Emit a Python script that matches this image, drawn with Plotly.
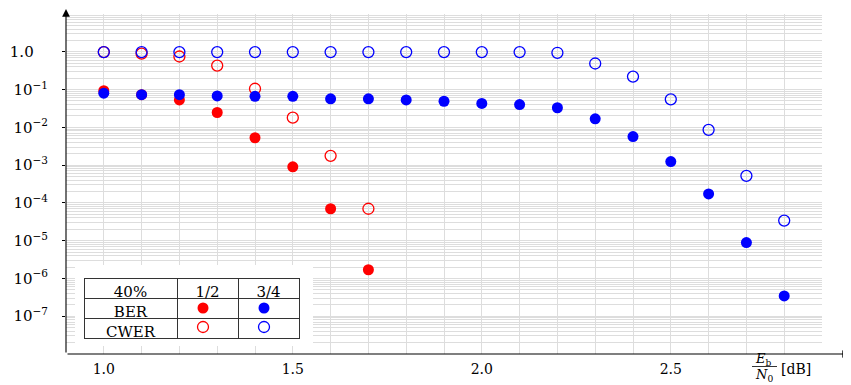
import plotly.graph_objects as go

# ---------------- data ----------------
snr_db = [1.0, 1.1, 1.2, 1.3, 1.4, 1.5, 1.6, 1.7, 1.8, 1.9,
          2.0, 2.1, 2.2, 2.3, 2.4, 2.5, 2.6, 2.7, 2.8]

# rate 1/2 (red) – measured up to 1.7 dB
snr_r12 = [1.0, 1.1, 1.2, 1.3, 1.4, 1.5, 1.6, 1.7]
ber_r12 = [0.093, 0.073, 0.053, 0.0247, 0.0053, 9.0e-4, 7.0e-5, 1.7e-6]
cwer_r12 = [0.98, 0.89, 0.75, 0.43, 0.105, 0.018, 1.76e-3, 7.0e-5]

# rate 3/4 (blue)
ber_r34 = [0.080, 0.073, 0.073, 0.068, 0.066, 0.066, 0.057, 0.057, 0.053, 0.049,
           0.043, 0.040, 0.033, 0.0168, 0.0057, 1.24e-3, 1.73e-4, 8.9e-6, 3.45e-7]
cwer_r34 = [0.98, 0.98, 0.98, 0.98, 0.98, 0.98, 0.98, 0.98, 0.98, 0.98,
            0.98, 0.98, 0.94, 0.49, 0.22, 0.055, 8.6e-3, 5.2e-4, 3.4e-5]

x_tick_vals = [1.0, 1.5, 2.0, 2.5]
x_tick_text = ["1.0", "1.5", "2.0", "2.5"]
y_tick_vals = [1, 1e-1, 1e-2, 1e-3, 1e-4, 1e-5, 1e-6, 1e-7]
y_tick_text = ["1.0\u00a0\u00a0\u00a0", "10<sup>−1</sup>", "10<sup>−2</sup>", "10<sup>−3</sup>",
               "10<sup>−4</sup>", "10<sup>−5</sup>", "10<sup>−6</sup>", "10<sup>−7</sup>"]

legend_corner = "40%"
legend_rates = ["1/2", "3/4"]
legend_metrics = ["BER", "CWER"]

RED = "#ff0000"
BLUE = "#0000ff"
GRID = "#dddddd"
SERIF = "DejaVu Serif"
rate_colors = [RED, BLUE]

# page body has an 8px margin: figure is drawn 8px right/down in the window
OFF = 8
W, H = 851 - OFF, 385 - OFF
PL, PR, PT, PB = 66, 822, 14, 354          # plot area in window pixels
px = lambda v: (v - PL) / (PR - PL)        # window px -> paper x
py = lambda v: (PB - v) / (PB - PT)        # window px -> paper y

# legend overlay area (white box) in window pixels, and cell pitch
LX0, LX1, LY0, LY1 = 75, 313, 265, 346
COL1, COLPITCH = 203, 61                   # centre of "1/2" column, spacing
ROW_BER, ROWPITCH = 308, 19                # centre of BER row, spacing

# ---------------- figure ----------------
fig = go.Figure()
fig.add_trace(go.Scatter(x=snr_r12, y=ber_r12, mode="markers",
                         marker=dict(symbol="circle", size=11, color=RED)))
fig.add_trace(go.Scatter(x=snr_r12, y=cwer_r12, mode="markers",
                         marker=dict(symbol="circle-open", size=11, color=RED,
                                     line=dict(width=1.3, color=RED))))
fig.add_trace(go.Scatter(x=snr_db, y=ber_r34, mode="markers",
                         marker=dict(symbol="circle", size=11, color=BLUE)))
fig.add_trace(go.Scatter(x=snr_db, y=cwer_r34, mode="markers",
                         marker=dict(symbol="circle-open", size=11, color=BLUE,
                                     line=dict(width=1.3, color=BLUE))))

# legend markers on a small categorical overlay axis pair (x2/y2)
fig.add_trace(go.Scatter(x=legend_rates, y=[legend_metrics[0]] * 2, mode="markers",
                         xaxis="x2", yaxis="y2", cliponaxis=False,
                         marker=dict(symbol="circle", size=11, color=rate_colors)))
fig.add_trace(go.Scatter(x=legend_rates, y=[legend_metrics[1]] * 2, mode="markers",
                         xaxis="x2", yaxis="y2", cliponaxis=False,
                         marker=dict(symbol="circle-open", size=11, color=rate_colors,
                                     line=dict(width=1.3, color=rate_colors))))

# legend table (text + rules), transparent cells
CLEAR = "rgba(0,0,0,0)"
fig.add_trace(go.Table(
    domain=dict(x=[px(84), px(299)], y=[0.0, py(278)]),
    columnwidth=[93, 61, 61],
    header=dict(values=[legend_corner] + legend_rates, height=20, align="center",
                line=dict(color="#333333", width=1), fill=dict(color=CLEAR),
                font=dict(family=SERIF, size=15, color="black")),
    cells=dict(values=[legend_metrics, ["", ""], ["", ""]], height=20, align="center",
               line=dict(color="#333333", width=1), fill=dict(color=CLEAR),
               font=dict(family=SERIF, size=15, color="black")),
))

x2_range = [-(COL1 - LX0) / COLPITCH, 1 + (LX1 - (COL1 + COLPITCH)) / COLPITCH]
y2_range = [-(LY1 - (ROW_BER + ROWPITCH)) / ROWPITCH, 1 + (ROW_BER - LY0) / ROWPITCH]

fig.update_layout(
    width=W, height=H,
    margin=dict(l=PL - OFF, r=851 - PR, t=PT - OFF, b=385 - PB),
    plot_bgcolor="white", paper_bgcolor="white",
    showlegend=False,
    font=dict(family=SERIF, size=14, color="black"),
    xaxis=dict(
        range=[0.9, 2.9], tickmode="array", tickvals=x_tick_vals, ticktext=x_tick_text,
        showgrid=True, gridcolor=GRID, gridwidth=1,
        minor=dict(tickmode="linear", tick0=0.9, dtick=0.1, showgrid=True, gridcolor=GRID, ticks=""),
        ticks="", showline=False, zeroline=False, ticklabelstandoff=5,
        tickfont=dict(size=14), automargin=False,
    ),
    yaxis=dict(
        type="log", range=[-8, 1], tickmode="array", tickvals=y_tick_vals, ticktext=y_tick_text,
        showgrid=True, gridcolor=GRID, gridwidth=1,
        minor=dict(dtick="D1", showgrid=True, gridcolor=GRID, ticks=""),
        ticks="outside", ticklen=3, tickcolor="black", tickwidth=1,
        showline=False, zeroline=False, ticklabelstandoff=11,
        tickfont=dict(size=15), automargin=False,
    ),
    xaxis2=dict(domain=[px(LX0), px(LX1)], anchor="y2", visible=False,
                categoryorder="array", categoryarray=legend_rates, range=x2_range,
                fixedrange=True),
    yaxis2=dict(domain=[py(LY1), py(LY0)], anchor="x2", visible=False,
                categoryorder="array", categoryarray=legend_metrics[::-1], range=y2_range,
                fixedrange=True),
)

# white box behind the legend (lives in the overlay subplot, above main gridlines)
fig.add_shape(type="rect", xref="x2 domain", yref="y2 domain",
              x0=0, x1=1, y0=0, y1=1,
              fillcolor="white", line=dict(width=0), layer="below")

# axis arrows
fig.add_annotation(xref="paper", yref="paper", x=px(850), y=0,
                   ax=-(850 - PL), ay=0, text="", showarrow=True,
                   arrowhead=2, arrowsize=1.4, arrowwidth=1.1, arrowcolor="black", standoff=0)
fig.add_annotation(xref="paper", yref="paper", x=0, y=py(9),
                   ax=0, ay=PB - 9, text="", showarrow=True,
                   arrowhead=2, arrowsize=1.4, arrowwidth=1.1, arrowcolor="black", standoff=0)

# x-axis title as a fraction E_b / N_0 [dB]
fig.add_annotation(xref="paper", yref="paper", x=px(763), y=py(359),
                   text="<i>E</i><sub>b</sub>", showarrow=False, font=dict(size=13),
                   xanchor="center", yanchor="middle")
fig.add_shape(type="line", xref="paper", yref="paper",
              x0=px(752), x1=px(777), y0=py(366.5), y1=py(366.5),
              line=dict(color="black", width=0.8))
fig.add_annotation(xref="paper", yref="paper", x=px(764), y=py(375),
                   text="<i>N</i><sub>0</sub>", showarrow=False, font=dict(size=13),
                   xanchor="center", yanchor="middle")
fig.add_annotation(xref="paper", yref="paper", x=px(779), y=py(369),
                   text="[dB]", showarrow=False, font=dict(size=14),
                   xanchor="left", yanchor="middle")

fig.write_html("out.html")
